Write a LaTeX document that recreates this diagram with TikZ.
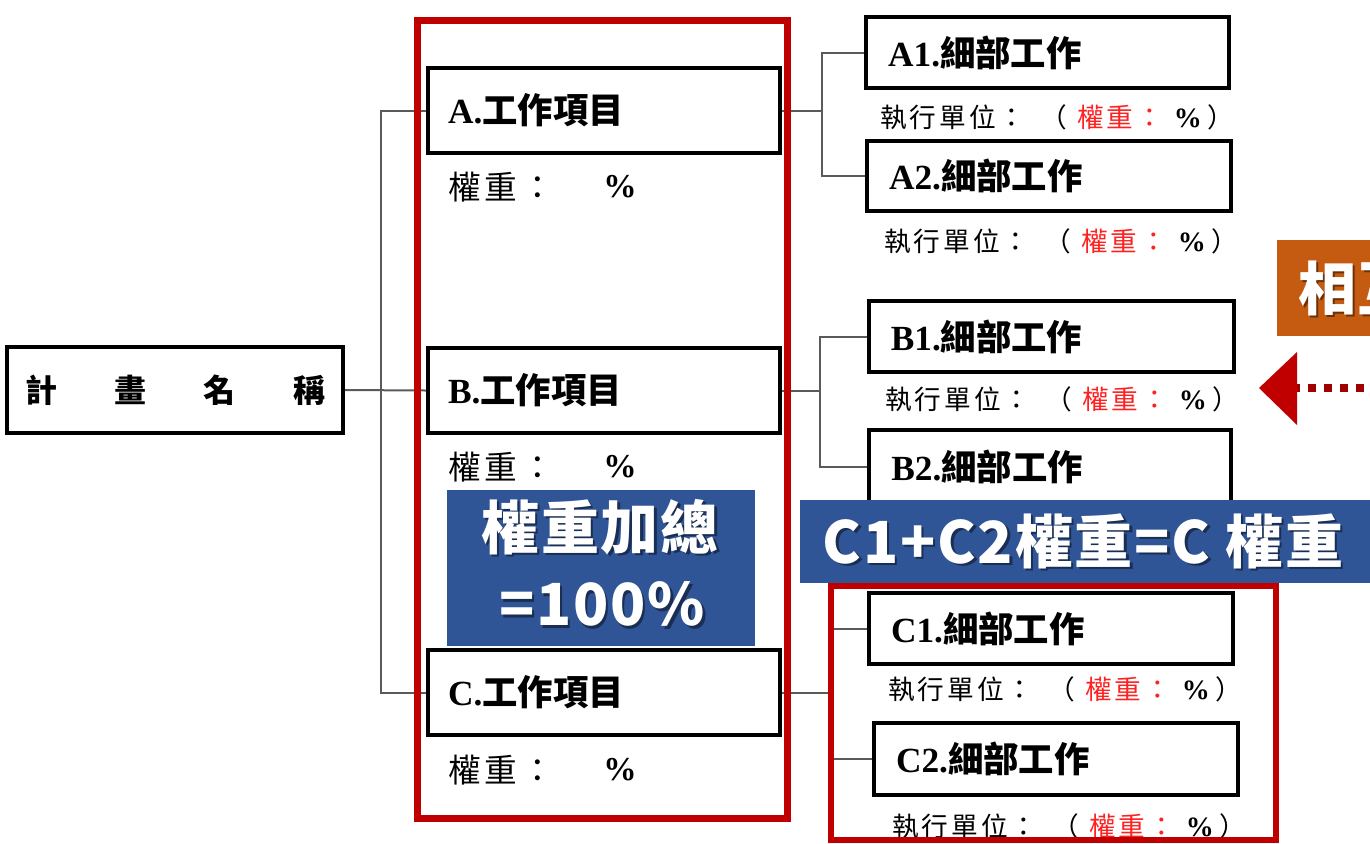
\documentclass[tikz,border=0pt]{standalone}
\usepackage{fontspec}
\newfontfamily\cjk{Noto Sans CJK TC}
\newfontfamily\cjksub[LetterSpace=11]{Noto Sans CJK TC}
\newfontfamily\cjkwt[LetterSpace=12]{Noto Sans CJK TC}
\newfontfamily\cjkbig[LetterSpace=3]{Noto Sans CJK TC}
\newfontfamily\lser{Liberation Serif}
\definecolor{frame}{HTML}{C00000}
\definecolor{lblue}{HTML}{2F5597}
\definecolor{orng}{HTML}{C55A11}
\definecolor{conn}{HTML}{5A5A5A}
\definecolor{wred}{HTML}{FF2020}
\definecolor{dred}{HTML}{A00000}
\begin{document}
\begin{tikzpicture}[x=0.75pt,y=-0.75pt,
  box/.style={draw=black,line width=3pt,fill=white,inner sep=0pt,align=left},
  linkline/.style={draw=conn,line width=1.5pt},
  redframe/.style={draw=frame,line width=5.25pt},
  ttl/.style={font=\fontsize{26.5}{28}\selectfont},
  subtxt/.style={anchor=west,inner sep=0pt,font=\fontsize{20}{22}\selectfont\cjksub},
  wttxt/.style={anchor=west,inner sep=0pt,font=\fontsize{24.5}{26}\selectfont\cjkwt},
  pcttxt/.style={anchor=center,inner sep=0pt,font=\fontsize{25}{26}\selectfont\lser\bfseries},
  bigtxt/.style={text=white,inner sep=0pt,font=\fontsize{43.5}{56}\selectfont\cjkbig\bfseries},
  shadowtxt/.style={text=black,opacity=0.45,inner sep=0pt,font=\fontsize{43.5}{56}\selectfont\cjkbig\bfseries}
]
\useasboundingbox (0,0) rectangle (1370,843);
\clip (0,0) rectangle (1370,843);

% junction coordinates
\coordinate (trunk) at (381,0);
\coordinate (jA) at (822,0);
\coordinate (jB) at (820,0);
\coordinate (jC) at (831,0);

% main box
\node[box,minimum width=252pt,minimum height=64.5pt,align=center,
      font=\fontsize{24}{26}\selectfont\cjk\bfseries] (main) at (175,390)
  {計\hspace{43pt}畫\hspace{43pt}名\hspace{43pt}稱};

% work items
\node[box,minimum width=264pt,minimum height=64pt,text width=234pt,ttl] (A) at (604,110.5)
  {{\lser\bfseries A.}{\cjk\bfseries 工作項目}};
\node[box,minimum width=264pt,minimum height=64pt,text width=234pt,ttl] (B) at (604,390.5)
  {{\lser\bfseries B.}{\cjk\bfseries 工作項目}};
\node[box,minimum width=264pt,minimum height=64pt,text width=234pt,ttl] (C) at (604,692.5)
  {{\lser\bfseries C.}{\cjk\bfseries 工作項目}};

\node[wttxt] (wA) at (448,187) {權重：};
\node[pcttxt] (pA) at (620,187) {\%};
\node[wttxt] (wB) at (448,467) {權重：};
\node[pcttxt] (pB) at (620,467) {\%};
\node[wttxt] (wC) at (448,770) {權重：};
\node[pcttxt] (pC) at (620,770) {\%};

% detail boxes
\node[box,minimum width=272pt,minimum height=53pt,text width=239pt,ttl] (A1) at (1047.5,52.5)
  {{\lser\bfseries A1.}{\cjk\bfseries 細部工作}};
\node[box,minimum width=273pt,minimum height=53pt,text width=240pt,ttl] (A2) at (1049,176)
  {{\lser\bfseries A2.}{\cjk\bfseries 細部工作}};
\node[box,minimum width=274pt,minimum height=53pt,text width=241pt,ttl] (B1) at (1051.5,336.5)
  {{\lser\bfseries B1.}{\cjk\bfseries 細部工作}};
\node[box,minimum width=271pt,minimum height=55pt,text width=238pt,ttl] (B2) at (1050,466.5)
  {{\lser\bfseries B2.}{\cjk\bfseries 細部工作}};
\node[box,minimum width=273pt,minimum height=53pt,text width=240pt,ttl] (C1) at (1051,628.5)
  {{\lser\bfseries C1.}{\cjk\bfseries 細部工作}};
\node[box,minimum width=273pt,minimum height=54pt,text width=240pt,ttl] (C2) at (1056,759)
  {{\lser\bfseries C2.}{\cjk\bfseries 細部工作}};

\newcommand{\unitline}{執行單位：\hspace{11pt}（\hspace{8pt}\textcolor{wred}{權重：}\hspace{8pt}{\lser\bfseries\fontsize{21}{22}\selectfont\%}\hspace{4pt}）}
\node[subtxt] (sA1) at (880,117) {\unitline};
\node[subtxt] (sA2) at (884,241) {\unitline};
\node[subtxt] (sB1) at (885,399) {\unitline};
\node[subtxt] (sC1) at (888,689) {\unitline};
\node[subtxt] (sC2) at (892,826) {\unitline};

% connectors
\draw[linkline] (main.east) -- (B.west);
\draw[linkline] (A.west) -- (A.west -| trunk) -- (C.west -| trunk) -- (C.west);
\draw[linkline] (A.east) -- (A.east -| jA);
\draw[linkline] (A1.west) -- (A1.west -| jA) -- (A2.west -| jA) -- (A2.west);
\draw[linkline] (B.east) -- (B.east -| jB);
\draw[linkline] (B1.west) -- (B1.west -| jB) -- (B2.west -| jB) -- (B2.west);
\draw[linkline] (C.east) -- (C.east -| jC);
\draw[linkline] (C1.west) -- (C1.west -| jC) -- (C2.west -| jC) -- (C2.west);

% red frames
\draw[redframe] (417,20) rectangle (787,818);
\draw[redframe,line width=4.5pt] (831,586) rectangle (1276,840);

% blue labels
\fill[lblue] (447,490) rectangle (755,646);
\node[shadowtxt] (sh1) at (602.5,529.5) {權重加總};
\node[bigtxt] (lab1) at (600,527) {權重加總};
\node[shadowtxt] (sh2) at (604.5,606.5) {=100\%};
\node[bigtxt] (lab2) at (602,604) {=100\%};

\fill[lblue] (800,500) rectangle (1380,583);
\node[shadowtxt] (sh3) at (1085.5,543.5) {C1+C2權重=C 權重};
\node[bigtxt] (lab3) at (1083,541) {C1+C2權重=C 權重};

% orange label (cut off at the right edge, as in the reference)
\fill[orng] (1277,240) rectangle (1400,336);
\node[shadowtxt,anchor=west] (sh4) at (1300.5,290.5) {相互};
\node[bigtxt,anchor=west] (lab4) at (1298,288) {相互};

% arrow from the right
\coordinate (arrTip) at (1259,388);
\coordinate (arrBase) at (1296,388);
\coordinate (arrFar) at (1380,388);
\draw[dred,line width=5.5pt,dash pattern=on 6pt off 6pt] (arrFar) -- (arrBase);
\fill[frame] (arrTip) -- (1297,352) -- (1297,425) -- cycle;
\end{tikzpicture}
\end{document}
